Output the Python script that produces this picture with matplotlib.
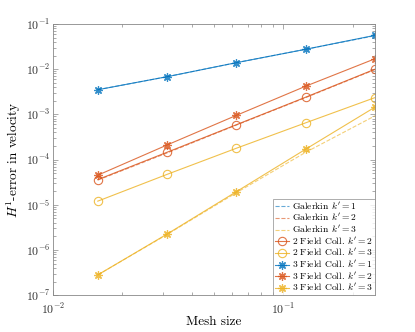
import matplotlib
matplotlib.use("Agg")
import matplotlib.pyplot as plt

plt.rcParams['font.family'] = 'serif'
plt.rcParams['font.serif'] = ['cmr10']
plt.rcParams['mathtext.fontset'] = 'cm'
plt.rcParams['axes.formatter.use_mathtext'] = True

# mesh sizes
h = [1/64, 1/32, 1/16, 1/8, 1/4]

# errors
gal_k1 = [3.5e-3, 6.8e-3, 1.39e-2, 2.75e-2, 5.5e-2]
gal_k2 = [3.5e-5, 1.4e-4, 5.8e-4, 2.35e-3, 9.8e-3]
gal_k3 = [2.8e-7, 2.2e-6, 1.85e-5, 1.45e-4, 9.3e-4]
f2_k2 = [3.6e-5, 1.45e-4, 5.9e-4, 2.4e-3, 1.0e-2]
f2_k3 = [1.2e-5, 4.7e-5, 1.78e-4, 6.5e-4, 2.35e-3]
f3_k1 = [3.5e-3, 6.8e-3, 1.39e-2, 2.75e-2, 5.6e-2]
f3_k2 = [4.5e-5, 2.1e-4, 9.5e-4, 4.2e-3, 1.7e-2]
f3_k3 = [2.8e-7, 2.25e-6, 1.95e-5, 1.7e-4, 1.45e-3]

c1 = '#0072BD'
c2 = '#D95319'
c3 = '#EDB120'
star = (8, 2, 0)

fig = plt.figure(figsize=(4.15, 3.32), dpi=100)
ax = fig.add_axes([0.128, 0.111, 0.776, 0.817])

ax.loglog(h, gal_k1, '--', color=c1, lw=0.8, alpha=0.6, label=r"Galerkin $k' = 1$")
ax.loglog(h, gal_k2, '--', color=c2, lw=0.8, alpha=0.6, label=r"Galerkin $k' = 2$")
ax.loglog(h, gal_k3, '--', color=c3, lw=0.8, alpha=0.6, label=r"Galerkin $k' = 3$")
ax.loglog(h, f2_k2, '-o', color=c2, lw=0.8, alpha=0.8, ms=6, mfc='none', mew=0.8,
          label=r"2 Field Coll. $k' = 2$")
ax.loglog(h, f2_k3, '-o', color=c3, lw=0.8, alpha=0.8, ms=6, mfc='none', mew=0.8,
          label=r"2 Field Coll. $k' = 3$")
ax.loglog(h, f3_k1, '-', marker=star, color=c1, lw=0.8, alpha=0.8, ms=6, mew=0.9,
          label=r"3 Field Coll. $k' = 1$")
ax.loglog(h, f3_k2, '-', marker=star, color=c2, lw=0.8, alpha=0.8, ms=6, mew=0.9,
          label=r"3 Field Coll. $k' = 2$")
ax.loglog(h, f3_k3, '-', marker=star, color=c3, lw=0.8, alpha=0.8, ms=6, mew=0.9,
          label=r"3 Field Coll. $k' = 3$")

ax.set_xlim(1e-2, 0.25)
ax.set_ylim(1e-7, 1e-1)
ax.set_xlabel('Mesh size', fontsize=9.5)
ax.set_ylabel(r'$H^1$-error in velocity', fontsize=9.5)
ax.xaxis.set_label_coords(0.5, -0.075)
ax.yaxis.set_label_coords(-0.095, 0.5)

for s in ax.spines.values():
    s.set_color('#888888')
    s.set_linewidth(0.6)
ax.tick_params(which='both', direction='in', top=True, right=True, colors='#888888',
               labelcolor='#333333', labelsize=8.5, width=0.5, pad=2)
ax.tick_params(axis='x', which='both', pad=5)
ax.tick_params(which='major', length=3.5)
ax.tick_params(which='minor', length=2)

leg = ax.legend(loc='lower right', fontsize=6.9, handlelength=1.5, handletextpad=0.3,
                borderpad=0.2, labelspacing=0.05, borderaxespad=0.0, fancybox=False)
leg.get_frame().set_edgecolor('#888888')
leg.get_frame().set_linewidth(0.6)

fig.savefig('out.png', dpi=100)
